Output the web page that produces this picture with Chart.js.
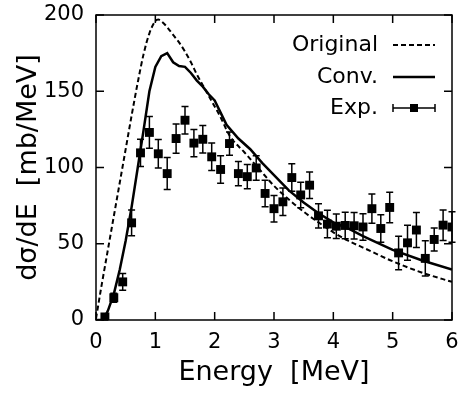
<!DOCTYPE html>
<html>
<head>
<meta charset="utf-8">
<script src="https://cdn.jsdelivr.net/npm/chart.js@4.4.1/dist/chart.umd.min.js"></script>
<style>
  body { margin: 0; background: #fff; }
</style>
</head>
<body>
<canvas id="xs" width="458" height="396"></canvas>
<script>
// Original calculation (dashed)
const origE = [0, 0.1, 0.2, 0.3, 0.4, 0.5, 0.6, 0.7, 0.8, 0.9, 1.0, 1.05, 1.1, 1.2, 1.3, 1.4, 1.5, 1.6, 1.7, 1.8, 1.9, 2.0, 2.1, 2.25, 2.5, 2.75, 3.0, 3.25, 3.5, 3.75, 4.0, 4.25, 4.5, 5.0, 5.5, 6.0];
const origVal = [1, 24, 46, 68, 90, 112, 134, 155, 174, 188, 196, 197, 196, 192, 187, 182, 176, 169, 161, 154, 147, 140, 133, 121, 110, 99, 88, 79, 71, 64, 57.5, 52, 47.5, 38.5, 31, 25];

// Convoluted calculation (solid)
const convE = [0, 0.12, 0.2, 0.3, 0.4, 0.5, 0.6, 0.7, 0.8, 0.9, 1.0, 1.1, 1.2, 1.3, 1.4, 1.5, 1.6, 1.7, 1.8, 1.9, 2.0, 2.1, 2.2, 2.4, 2.6, 2.8, 3.0, 3.25, 3.5, 3.75, 4.0, 4.25, 4.5, 5.0, 5.5, 6.0];
const convVal = [0, 0, 6, 17, 33, 52, 74, 99, 124, 150, 166, 173, 175, 169, 166.5, 166, 162, 157, 153, 148, 144, 136, 128, 119, 112, 103, 95, 85, 77, 70, 64, 60, 55, 46, 39, 33];

// Experiment with errors
const expE = [0.15, 0.3, 0.45, 0.6, 0.75, 0.9, 1.05, 1.2, 1.35, 1.5, 1.65, 1.8, 1.95, 2.1, 2.25, 2.4, 2.55, 2.7, 2.85, 3.0,
              3.15, 3.3, 3.45, 3.6, 3.75, 3.9, 4.05, 4.2, 4.35, 4.5, 4.65, 4.8, 4.95, 5.1, 5.25, 5.4, 5.55, 5.7, 5.85, 6.0];
const expVal = [2, 14.6, 25, 63.7, 109.6, 123, 109, 96, 119, 131, 116, 118.5, 107, 98.7, 115.7, 96, 94, 99.7, 83, 73,
                77.5, 93.4, 82, 88.4, 68.3, 62.9, 61.5, 62, 61.8, 61, 73, 60, 73.8, 44, 50.6, 59, 40.4, 52.8, 62.2, 61];
const expErr = [2, 3, 5.5, 8.5, 9, 10.4, 9.3, 10.5, 9.6, 9, 9, 9, 9, 9, 7.6, 8, 8, 8, 8.7, 8.7,
                9, 9, 8.4, 8.7, 8, 9, 8, 8.7, 8.7, 8.7, 9.6, 9, 10, 11, 11.5, 11.5, 11.5, 7.5, 10, 10];

const xTicks = [0, 1, 2, 3, 4, 5, 6];
const yTicks = [0, 50, 100, 150, 200];

const FONT = "'DejaVu Sans', 'Liberation Sans', Arial, sans-serif";

function pts(xs, ys) {
  return xs.map((x, i) => ({ x: x, y: ys[i] }));
}

// error bars, frame, inward ticks and the legend
const extras = {
  id: "extras",
  afterDatasetsDraw(chart) {
    const ctx = chart.ctx;
    const xs = chart.scales.x, ys = chart.scales.y;
    const a = chart.chartArea;
    ctx.save();
    ctx.strokeStyle = "#000";
    ctx.lineWidth = 1.5;

    // error bars
    ctx.beginPath();
    for (let i = 0; i < expE.length; i++) {
      const px = xs.getPixelForValue(expE[i]);
      const lo = ys.getPixelForValue(expVal[i] - expErr[i]);
      const hi = ys.getPixelForValue(expVal[i] + expErr[i]);
      ctx.moveTo(px, lo); ctx.lineTo(px, hi);
      ctx.moveTo(px - 3.5, lo); ctx.lineTo(px + 3.5, lo);
      ctx.moveTo(px - 3.5, hi); ctx.lineTo(px + 3.5, hi);
    }
    ctx.stroke();

    // frame
    ctx.strokeRect(a.left, a.top, a.right - a.left, a.bottom - a.top);

    // inward ticks
    ctx.beginPath();
    for (const v of xTicks) {
      const px = xs.getPixelForValue(v);
      ctx.moveTo(px, a.bottom); ctx.lineTo(px, a.bottom - 8);
      ctx.moveTo(px, a.top); ctx.lineTo(px, a.top + 8);
    }
    for (const v of yTicks) {
      const py = ys.getPixelForValue(v);
      ctx.moveTo(a.left, py); ctx.lineTo(a.left + 8, py);
      ctx.moveTo(a.right, py); ctx.lineTo(a.right - 8, py);
    }
    ctx.stroke();

    // legend
    ctx.fillStyle = "#000";
    ctx.font = "22px " + FONT;
    ctx.textAlign = "right";
    ctx.textBaseline = "middle";
    const tx = 378, x0 = 393, x1 = 435;
    const rows = [45, 77, 108];
    ctx.fillText("Original", tx, rows[0]);
    ctx.fillText("Conv.", tx, rows[1]);
    ctx.fillText("Exp.", tx, rows[2]);

    ctx.lineWidth = 2;
    ctx.setLineDash([5, 3]);
    ctx.beginPath(); ctx.moveTo(x0, rows[0]); ctx.lineTo(x1, rows[0]); ctx.stroke();
    ctx.setLineDash([]);
    ctx.lineWidth = 2.5;
    ctx.beginPath(); ctx.moveTo(x0, rows[1]); ctx.lineTo(x1, rows[1]); ctx.stroke();
    ctx.lineWidth = 1.5;
    ctx.beginPath();
    ctx.moveTo(x0, rows[2]); ctx.lineTo(x1, rows[2]);
    ctx.moveTo(x0, rows[2] - 4); ctx.lineTo(x0, rows[2] + 4);
    ctx.moveTo(x1, rows[2] - 4); ctx.lineTo(x1, rows[2] + 4);
    ctx.stroke();
    const mid = (x0 + x1) / 2;
    ctx.fillRect(mid - 4, rows[2] - 4, 8, 8);
    ctx.restore();
  }
};

new Chart(document.getElementById("xs"), {
  type: "scatter",
  data: {
    datasets: [
      {
        label: "Original",
        data: pts(origE, origVal),
        showLine: true,
        borderColor: "#000",
        borderWidth: 2,
        borderDash: [5, 3],
        pointRadius: 0,
        cubicInterpolationMode: "monotone"
      },
      {
        label: "Conv.",
        data: pts(convE, convVal),
        showLine: true,
        borderColor: "#000",
        borderWidth: 2.5,
        pointRadius: 0,
        tension: 0
      },
      {
        label: "Exp.",
        data: pts(expE, expVal),
        showLine: false,
        pointStyle: "rect",
        pointRadius: 6.3,
        backgroundColor: "#000",
        borderColor: "#000",
        borderWidth: 0
      }
    ]
  },
  options: {
    responsive: false,
    animation: false,
    layout: { autoPadding: false, padding: { top: 15, right: 6, bottom: 0, left: 0 } },
    plugins: { legend: { display: false }, tooltip: { enabled: false } },
    scales: {
      x: {
        type: "linear",
        min: 0,
        max: 6,
        afterFit: s => { s.height = 76; s.paddingLeft = 0; s.paddingRight = 0; },
        afterBuildTicks: s => { s.ticks = xTicks.map(v => ({ value: v })); },
        grid: { display: false, drawTicks: false },
        border: { display: false },
        ticks: { color: "#000", padding: 10, font: { family: FONT, size: 21 } },
        title: {
          display: true,
          text: "Energy  [MeV]",
          color: "#000",
          font: { family: FONT, size: 27 },
          padding: { top: 0, bottom: 7 }
        }
      },
      y: {
        min: 0,
        max: 200,
        afterFit: s => { s.width = 96; s.paddingTop = 0; s.paddingBottom = 0; },
        afterBuildTicks: s => { s.ticks = yTicks.map(v => ({ value: v })); },
        grid: { display: false, drawTicks: false },
        border: { display: false },
        ticks: { color: "#000", padding: 12, font: { family: FONT, size: 21 } },
        title: {
          display: true,
          text: "dσ/dE  [mb/MeV]",
          color: "#000",
          font: { family: FONT, size: 27 },
          padding: { top: 13, bottom: 0 }
        }
      }
    }
  },
  plugins: [extras]
});
</script>
</body>
</html>
